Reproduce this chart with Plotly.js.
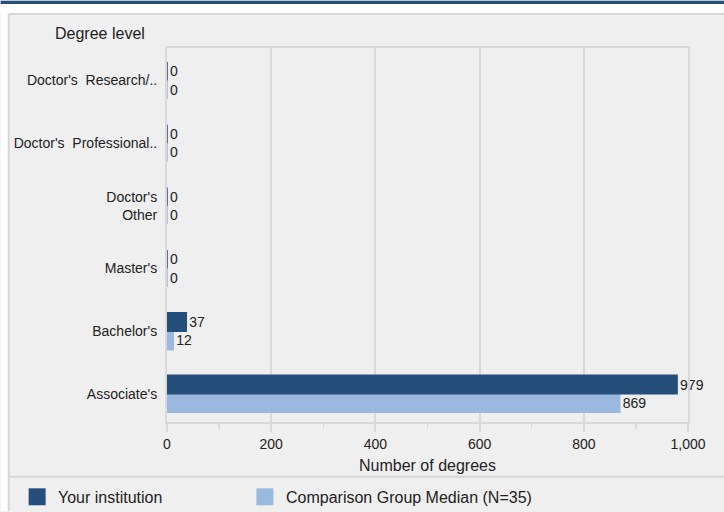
<!DOCTYPE html>
<html>
<head>
<meta charset="utf-8">
<script src="https://cdn.plot.ly/plotly-3.0.1.min.js"></script>
<style>
  html, body { margin: 0; padding: 0; background: #ffffff; }
  #chart { width: 724px; height: 512px; }
</style>
</head>
<body>
<div id="chart"></div>
<script>
// ---- data ----
var categories = ["Associate's", "Bachelor's", "Master's", "Doctor's<br>Other", "Doctor's\u00a0 Professional..", "Doctor's\u00a0 Research/.."];
var yourInstitution = [979, 37, 0, 0, 0, 0];
var comparisonMedian = [869, 12, 0, 0, 0, 0];
var seriesNames = ["Your institution", "Comparison Group Median (N=35)"];
var xTickValues = [0, 200, 400, 600, 800, 1000];
var xTickLabels = ["0", "200", "400", "600", "800", "1,000"];

// ---- geometry helpers (pixel -> paper) ----
var W = 724, H = 512;
var L = 166.5, R = 688, T = 47.5, B = 422.5;
function px(x) { return (x - L) / (R - L); }
function py(y) { return (B - y) / (B - T); }

var darkBlue = '#254e7b';
var lightBlue = '#9bb9de';
var gridCol = '#d9d9d9';
var font = 'Liberation Sans, Arial, sans-serif';

var traces = [
  {
    type: 'bar', orientation: 'h', name: seriesNames[1],
    y: categories, x: comparisonMedian,
    marker: { color: lightBlue, line: { color: lightBlue, width: 1.5 } },
    text: comparisonMedian.map(String), textposition: 'outside',
    textfont: { family: font, size: 14, color: '#222222' },
    cliponaxis: false, hoverinfo: 'x+name', showlegend: false
  },
  {
    type: 'bar', orientation: 'h', name: seriesNames[0],
    y: categories, x: yourInstitution,
    marker: { color: darkBlue, line: { color: darkBlue, width: 1.5 } },
    text: yourInstitution.map(String), textposition: 'outside',
    textfont: { family: font, size: 14, color: '#222222' },
    cliponaxis: false, hoverinfo: 'x+name', showlegend: false
  }
];

var shapes = [
  // white frame top & left
  { type: 'rect', xref: 'paper', yref: 'paper', x0: px(0), x1: px(W), y0: py(0), y1: py(13), fillcolor: '#ffffff', line: { width: 0 }, layer: 'below' },
  { type: 'rect', xref: 'paper', yref: 'paper', x0: px(0), x1: px(8), y0: py(0), y1: py(H), fillcolor: '#ffffff', line: { width: 0 }, layer: 'below' },
  // dark band at top
  { type: 'rect', xref: 'paper', yref: 'paper', x0: px(0), x1: px(W), y0: py(0), y1: py(3.5), fillcolor: darkBlue, line: { width: 0 }, layer: 'below' },
  // border lines
  { type: 'line', xref: 'paper', yref: 'paper', x0: px(8), x1: px(W), y0: py(13.5), y1: py(13.5), line: { color: '#d6d6d6', width: 2 }, layer: 'below' },
  { type: 'line', xref: 'paper', yref: 'paper', x0: px(8), x1: px(8), y0: py(13.5), y1: py(H), line: { color: '#d6d6d6', width: 2 }, layer: 'below' },
  { type: 'line', xref: 'paper', yref: 'paper', x0: px(8), x1: px(W), y0: py(477.5), y1: py(477.5), line: { color: '#d6d6d6', width: 2 }, layer: 'below' },
  // legend swatches
  { type: 'rect', xref: 'paper', yref: 'paper', x0: px(28), x1: px(45), y0: py(506), y1: py(489), fillcolor: darkBlue, line: { width: 0 } },
  { type: 'rect', xref: 'paper', yref: 'paper', x0: px(256), x1: px(273), y0: py(506), y1: py(489), fillcolor: lightBlue, line: { width: 0 } }
];

var annotations = [
  { xref: 'paper', yref: 'paper', x: px(52), y: py(33), xanchor: 'left', yanchor: 'middle', text: 'Degree level', showarrow: false, font: { family: font, size: 16, color: '#222222' } },
  { xref: 'paper', yref: 'paper', x: px(55), y: py(498), xanchor: 'left', yanchor: 'middle', text: seriesNames[0], showarrow: false, font: { family: font, size: 16, color: '#222222' } },
  { xref: 'paper', yref: 'paper', x: px(284), y: py(498), xanchor: 'left', yanchor: 'middle', text: seriesNames[1], showarrow: false, font: { family: font, size: 16, color: '#222222' } }
];

var layout = {
  width: W, height: H,
  margin: { l: L, r: W - R, t: T, b: H - B, pad: 0 },
  paper_bgcolor: '#efefef', plot_bgcolor: '#efefef',
  font: { family: font, size: 14, color: '#222222' },
  barmode: 'group', bargap: 0.41, bargroupgap: 0,
  showlegend: false,
  xaxis: {
    range: [0, 1000], tickvals: xTickValues, ticktext: xTickLabels,
    showgrid: true, gridcolor: gridCol, gridwidth: 2,
    showline: true, linecolor: gridCol, linewidth: 2, mirror: true,
    ticks: 'outside', ticklen: 8, tickwidth: 2, tickcolor: gridCol,
    minor: { dtick: 100, ticks: 'outside', ticklen: 5, tickwidth: 1.5, tickcolor: gridCol, showgrid: false },
    zeroline: false,
    tickfont: { family: font, size: 14, color: '#222222' },
    title: { text: 'Number of degrees', standoff: 9, font: { family: font, size: 16, color: '#222222' } },
    automargin: false, fixedrange: true
  },
  yaxis: {
    type: 'category', categoryorder: 'array', categoryarray: categories,
    range: [-0.45, 5.52],
    showgrid: false, showline: true, linecolor: gridCol, linewidth: 2, mirror: true,
    ticks: '', ticklabelstandoff: 5,
    tickfont: { family: font, size: 14, color: '#222222' },
    zeroline: false, automargin: false, fixedrange: true
  },
  shapes: shapes,
  annotations: annotations
};

Plotly.newPlot('chart', traces, layout, { displayModeBar: false, staticPlot: true });
</script>
</body>
</html>
